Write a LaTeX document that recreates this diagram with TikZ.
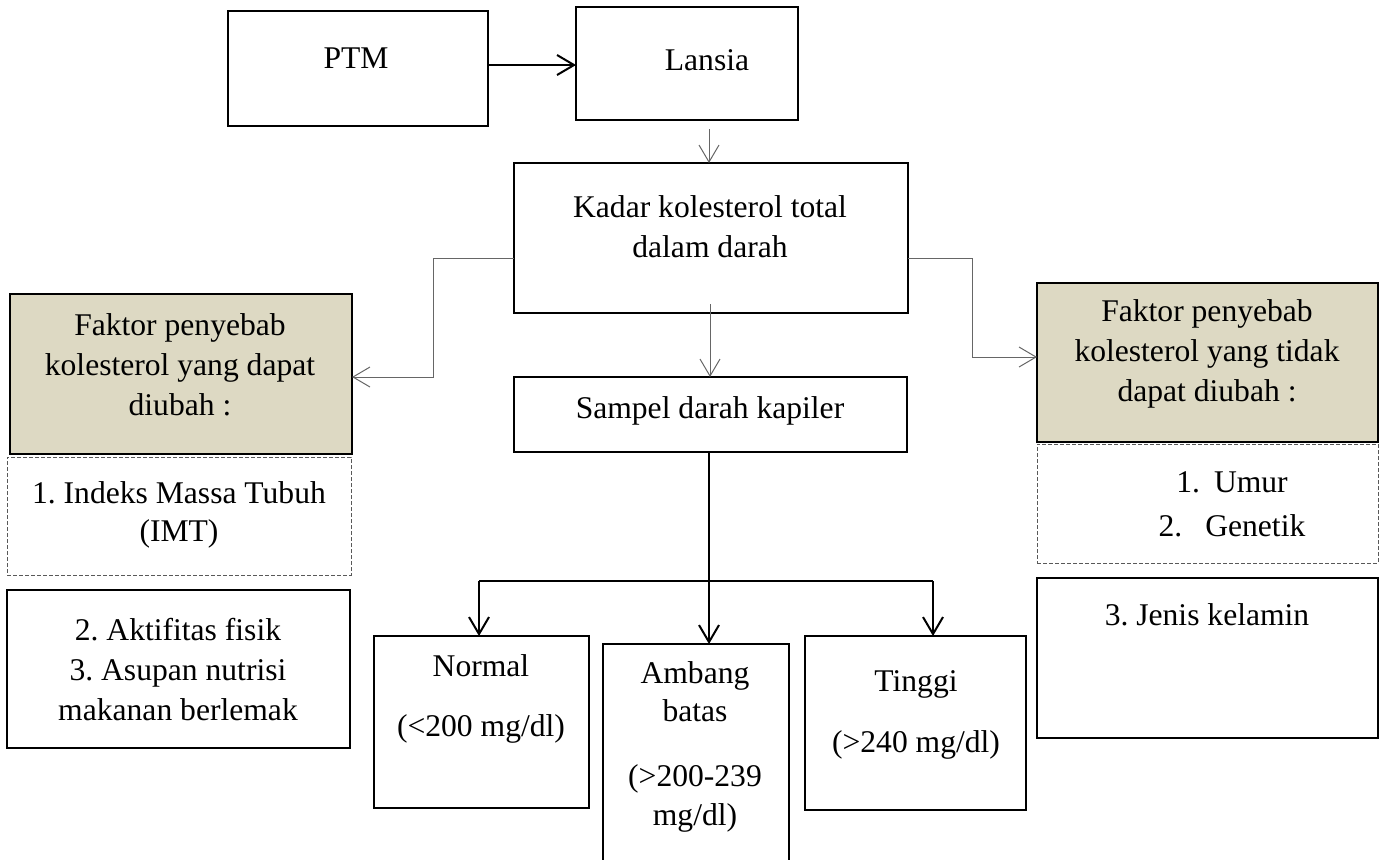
\documentclass[tikz,border=0pt]{standalone}
\usepackage{fontspec}
\setmainfont{Liberation Serif}
\usetikzlibrary{arrows.meta}
\frenchspacing
\definecolor{tanfill}{RGB}{221,217,195}
\newcommand\firstln{\rule{0pt}{11.5pt}}
\tikzset{
  box/.style={draw=black, line width=0.75pt, rectangle, inner sep=0pt, outer sep=0pt},
  sz/.style 2 args={minimum width=#1*0.5pt, minimum height=#2*0.5pt},
  tanbox/.style={box, fill=tanfill},
  dashbox/.style={draw=black!65, line width=0.5pt, dash pattern=on 2pt off 1pt, rectangle, inner sep=0pt, outer sep=0pt},
  txt/.style={align=center, inner sep=0pt, outer sep=0pt, anchor=north, font=\fontsize{15.8}{20}\selectfont},
  thinarrow/.style={draw=black!60, line width=0.5pt, -{Straight Barb[length=8.5pt, width=10pt, line width=0.5pt]}},
  thickarrow/.style={draw=black, line width=1pt, -{Straight Barb[length=8.5pt, width=10pt, line width=1pt]}},
  thickline/.style={draw=black, line width=1pt},
  thinline/.style={draw=black!60, line width=0.5pt}
}
\begin{document}
\begin{tikzpicture}[x=0.5pt,y=-0.5pt]
\useasboundingbox (0,0) rectangle (1386,859);
% boxes
\node[box, sz={260}{115}] (ptm) at (358,68.5) {};
\node[box, sz={222}{113}] (lansia) at (687,63.5) {};
\node[box, sz={394}{150}] (kadar) at (711,238) {};
\node[box, sz={393}{75}] (sampel) at (710.5,414.5) {};
\node[tanbox, sz={342}{160}] (lfill) at (181,374) {};
\node[dashbox, sz={344}{118}] (ldash) at (179,516) {};
\node[box, sz={343}{158}] (lsolid) at (178.5,669) {};
\node[tanbox, sz={341}{159}] (rfill) at (1207.5,362.5) {};
\node[dashbox, sz={341}{119}] (rdash) at (1207.5,503.5) {};
\node[box, sz={341}{160}] (rsolid) at (1207.5,658) {};
\node[box, sz={215}{172}] (normal) at (481.5,722) {};
\node[box, sz={186}{220}] (ambang) at (696,754) {};
\node[box, sz={221}{174}] (tinggi) at (915.5,723) {};
% texts (north = first baseline - 23)
\node[txt] (tptm) at (356,45) {\firstln PTM};
\node[txt] (tlansia) at (707,47) {\firstln Lansia};
\node[txt] (tkadar) at (710,194) {\firstln Kadar kolesterol total\\dalam darah};
\node[txt] (tsampel) at (710,395) {\firstln Sampel darah kapiler};
\node[txt] (tlfill) at (180,312.5) {\firstln Faktor penyebab\\kolesterol yang dapat\\diubah :};
\node[txt] (tldash) at (179,480) {\firstln 1. Indeks Massa Tubuh\\[-1pt](IMT)};
\node[txt] (tlsolid) at (178,617) {\firstln 2. Aktifitas fisik\\3. Asupan nutrisi\\makanan berlemak};
\node[txt] (trfill) at (1207,298.5) {\firstln Faktor penyebab\\kolesterol yang tidak\\dapat diubah :};
\node[txt] (trdash) at (1232,469) {\firstln 1.\hspace{7pt}Umur\\[2pt]2.\hspace{11.5pt}Genetik};
\node[txt] (trsolid) at (1207,602) {\firstln 3. Jenis kelamin};
\node[txt] (tnormal) at (481,653) {\firstln Normal\\[10pt](<200 mg/dl)};
\node[txt] (tambang) at (695,660) {\firstln Ambang\\[-0.7pt]batas\\[12.5pt](>200-239\\[-0.7pt]mg/dl)};
\node[txt] (ttinggi) at (916,668) {\firstln Tinggi\\[10.5pt](>240 mg/dl)};
% connectors
\coordinate (c1) at (488,65);
\draw[thickarrow] (c1) -- (c1 -| lansia.west);
\coordinate (c2) at (709,129);
\draw[thinarrow] (c2) -- (c2 |- kadar.north);
\coordinate (kl) at (514,258);
\coordinate (kr) at (908,258);
\draw[thinarrow] (kl) -- (433,258) -- (433,377) -- (lfill.east |- 0,377);
\draw[thinarrow] (kr) -- (972,258) -- (972,357) -- (rfill.west |- 0,357);
\coordinate (c3) at (710,304);
\draw[thinarrow] (c3) -- (c3 |- sampel.north);
\coordinate (sb) at (709,452);
\coordinate (tj) at (709,581);
\draw[thickline] (sb) -- (tj);
\draw[thickline] (tj -| 479,0) -- (tj -| 933,0);
\draw[thickarrow] (tj -| 479,0) -- (normal.north -| 479,0);
\draw[thickarrow] (tj) -- (ambang.north -| tj);
\draw[thickarrow] (tj -| 933,0) -- (tinggi.north -| 933,0);
\end{tikzpicture}
\end{document}
